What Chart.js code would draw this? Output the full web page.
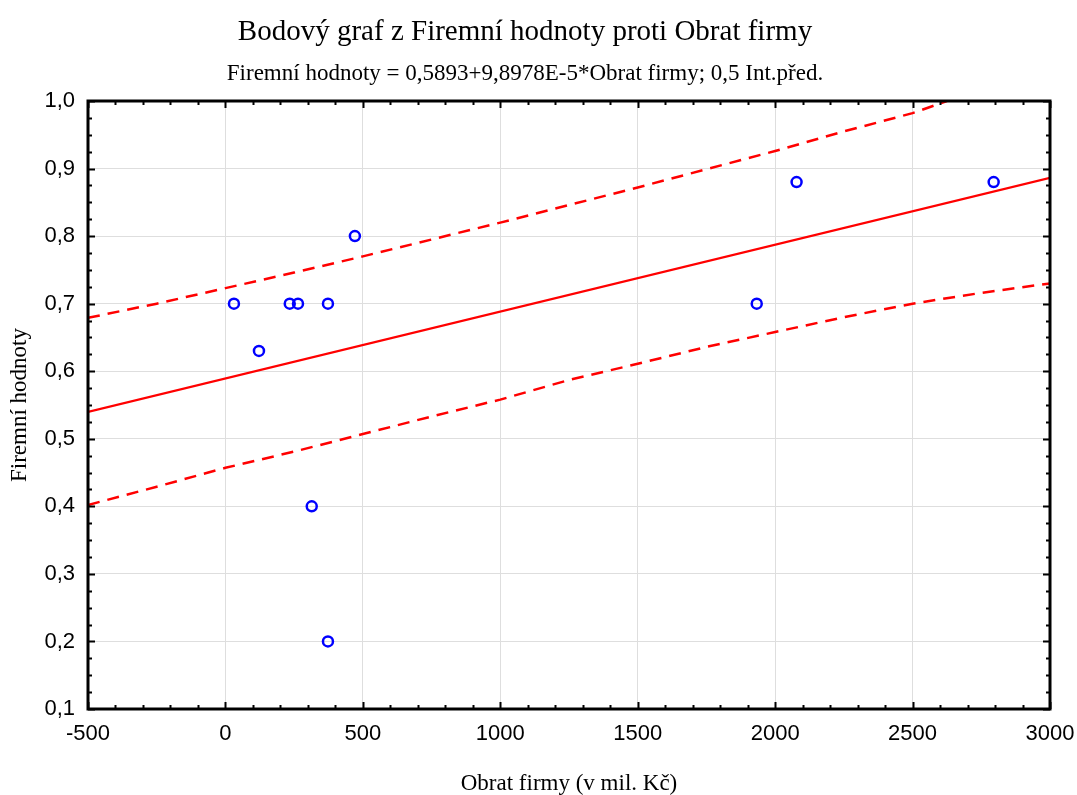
<!DOCTYPE html>
<html>
<head>
<meta charset="utf-8">
<title>Bodový graf</title>
<script src="https://cdn.jsdelivr.net/npm/chart.js@4.4.1/dist/chart.umd.min.js"></script>
<style>
  html, body { margin: 0; padding: 0; background: #fff; }
  #wrap { width: 1077px; height: 795px; position: relative; }
</style>
</head>
<body>
<div id="wrap"><canvas id="scatterChart"></canvas></div>
<script>
// Obrat firmy (mil. Kč) vs. Firemní hodnoty
const obratFirmy     = [31, 122, 234, 264, 373, 471, 314, 373, 1933, 2078, 2795];
const firemniHodnoty = [0.70, 0.63, 0.70, 0.70, 0.70, 0.80, 0.40, 0.20, 0.70, 0.88, 0.88];

// regression line 0,5893 + 9,8978E-5 * x, taken at both ends of the axis
const fitX = [-500, 3000];
const fitY = [0.5398, 0.8862];

// 50% prediction band
const upperX = [-500, -250, 0, 250, 500, 750, 1000, 1250, 1500, 1750, 2000, 2250, 2500, 2625];
const upperY = [0.679, 0.700, 0.723, 0.746, 0.770, 0.795, 0.820, 0.846, 0.872, 0.899, 0.926, 0.955, 0.982, 1.000];
const lowerX = [-500, -250, 0, 250, 500, 750, 1000, 1250, 1500, 1750, 2000, 2250, 2500, 2750, 3000];
const lowerY = [0.402, 0.429, 0.457, 0.481, 0.507, 0.533, 0.558, 0.587, 0.611, 0.636, 0.658, 0.680, 0.700, 0.716, 0.730];

// axis ranges / tick steps
const xRange = [-500, 3000];
const yRange = [0.1, 1.0];

const SERIF = "'Liberation Serif', 'Times New Roman', serif";
const SANS  = "'Liberation Sans', Arial, sans-serif";

const toPoints = (xs, ys) => xs.map((x, i) => ({ x, y: ys[i] }));

// black box round the plot with inward major/minor ticks on all four sides
const frameTicks = {
  id: 'frameTicks',
  afterDatasetsDraw(chart) {
    const { ctx, chartArea: a, scales: { x, y } } = chart;
    ctx.save();
    ctx.strokeStyle = '#000';
    ctx.lineWidth = 2;
    ctx.beginPath();
    for (let v = xRange[0]; v <= xRange[1]; v += 100) {
      const px = Math.round(x.getPixelForValue(v)) + 0.5;
      const len = (v % 500 === 0) ? 7 : 4;
      ctx.moveTo(px, a.bottom); ctx.lineTo(px, a.bottom - len);
      ctx.moveTo(px, a.top);    ctx.lineTo(px, a.top + len);
    }
    for (let i = 0; i <= 36; i++) {
      const py = Math.round(y.getPixelForValue(yRange[0] + i * 0.025)) + 0.5;
      const len = (i % 4 === 0) ? 7 : 4;
      ctx.moveTo(a.left, py);  ctx.lineTo(a.left + len, py);
      ctx.moveTo(a.right, py); ctx.lineTo(a.right - len, py);
    }
    ctx.stroke();
    ctx.lineWidth = 3;
    ctx.strokeRect(a.left, a.top, a.right - a.left, a.bottom - a.top);
    ctx.restore();
  }
};

const bandStyle = {
  showLine: true, borderColor: '#ff0000', borderWidth: 2.5, borderDash: [12, 8],
  pointRadius: 0, fill: false, tension: 0
};

new Chart(document.getElementById('scatterChart'), {
  type: 'scatter',
  data: {
    datasets: [
      { label: 'data', data: toPoints(obratFirmy, firemniHodnoty),
        pointStyle: 'circle', pointRadius: 5, pointBorderWidth: 2.5,
        pointBorderColor: '#0000ff', pointBackgroundColor: 'rgba(0,0,0,0)', order: 0 },
      { label: 'fit', data: toPoints(fitX, fitY), showLine: true,
        borderColor: '#ff0000', borderWidth: 2.2, pointRadius: 0, order: 1 },
      { label: 'upper', data: toPoints(upperX, upperY), ...bandStyle, order: 2 },
      { label: 'lower', data: toPoints(lowerX, lowerY), ...bandStyle, order: 3 }
    ]
  },
  options: {
    responsive: true,
    maintainAspectRatio: false,
    animation: false,
    layout: { padding: { left: 0, right: 27, top: 0, bottom: 0 } },
    plugins: {
      legend: { display: false },
      tooltip: { enabled: false },
      title: {
        display: true, text: 'Bodový graf z Firemní hodnoty proti Obrat firmy',
        color: '#000', font: { family: SERIF, size: 29, weight: 'normal' },
        padding: { top: 14.6, bottom: 6 }
      },
      subtitle: {
        display: true, text: 'Firemní hodnoty = 0,5893+9,8978E-5*Obrat firmy; 0,5 Int.před.',
        color: '#000', font: { family: SERIF, size: 23, weight: 'normal' },
        padding: { top: 4.8, bottom: 13.2 }
      }
    },
    scales: {
      x: {
        type: 'linear', min: xRange[0], max: xRange[1],
        afterFit: s => { s.height = 86; s.paddingLeft = 0; s.paddingRight = 0; },
        border: { display: false },
        grid: { color: '#dedede', lineWidth: 1, drawTicks: false },
        ticks: { stepSize: 500, padding: 12, color: '#000',
                 font: { family: SANS, size: 22 }, callback: v => String(v) },
        title: { display: true, text: 'Obrat firmy (v mil. Kč)', color: '#000',
                 font: { family: SERIF, size: 23, lineHeight: 1 }, padding: { top: 0, bottom: 0 } }
      },
      y: {
        type: 'linear', min: yRange[0], max: yRange[1],
        afterFit: s => { s.width = 88; },
        border: { display: false },
        grid: { color: '#dedede', lineWidth: 1, drawTicks: false },
        ticks: { stepSize: 0.1, padding: 13, color: '#000',
                 font: { family: SANS, size: 22 },
                 callback: v => v.toFixed(1).replace('.', ',') },
        title: { display: true, text: 'Firemní hodnoty', color: '#000',
                 font: { family: SERIF, size: 23 }, padding: { top: 6, bottom: 0 } }
      }
    }
  },
  plugins: [frameTicks]
});
</script>
</body>
</html>
